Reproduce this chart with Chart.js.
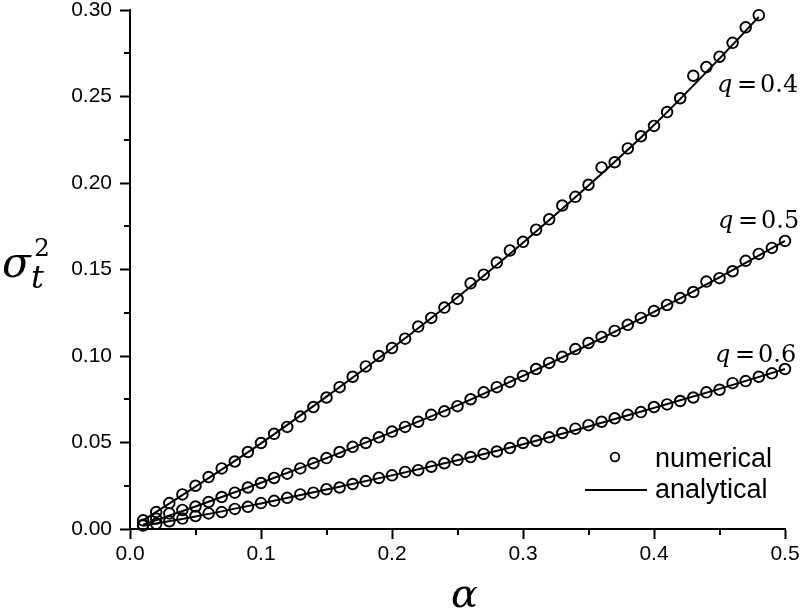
<!DOCTYPE html>
<html>
<head>
<meta charset="utf-8">
<script src="https://cdn.jsdelivr.net/npm/chart.js@4.4.1/dist/chart.umd.min.js"></script>
<style>
  html, body { margin: 0; padding: 0; background: #fff; }
  #wrap { width: 800px; height: 609px; }
</style>
</head>
<body>
<div id="wrap"><canvas id="c" width="800" height="609"></canvas></div>
<script>
// ---- data ----
const alpha = [0.01,0.02,0.03,0.04,0.05,0.06,0.07,0.08,0.09,0.10,
               0.11,0.12,0.13,0.14,0.15,0.16,0.17,0.18,0.19,0.20,
               0.21,0.22,0.23,0.24,0.25,0.26,0.27,0.28,0.29,0.30,
               0.31,0.32,0.33,0.34,0.35,0.36,0.37,0.38,0.39,0.40,
               0.41,0.42,0.43,0.44,0.45,0.46,0.47,0.48,0.49,0.50];

// numerical (circles)
const q04Num = [0.005,0.0098,0.015,0.020,0.025,0.030,0.035,0.039,0.0445,0.0497,
                0.055,0.059,0.065,0.0705,0.076,0.082,0.088,0.094,0.100,0.1046,
                0.110,0.117,0.122,0.128,0.133,0.142,0.147,0.154,0.161,0.166,
                0.173,0.179,0.187,0.192,0.199,0.209,0.212,0.220,0.227,0.233,
                0.241,0.249,0.262,0.267,0.273,0.281,0.290,0.297];
const q05Num = [0.0025,0.006,0.009,0.011,0.013,0.0156,0.0185,0.021,0.024,0.0266,
                0.0295,0.032,0.035,0.038,0.041,0.0445,0.0475,0.0497,0.053,0.0563,
                0.059,0.062,0.066,0.068,0.071,0.075,0.079,0.082,0.085,0.0885,
                0.0925,0.096,0.0995,0.104,0.1075,0.111,0.1145,0.118,0.122,0.126,
                0.1295,0.1335,0.137,0.143,0.145,0.149,0.155,0.159,0.1625,0.1665];
const q06Num = [0.002,0.003,0.0045,0.006,0.0075,0.009,0.0098,0.0116,0.0128,0.015,
                0.0163,0.018,0.020,0.021,0.023,0.024,0.026,0.0277,0.0295,0.031,
                0.033,0.034,0.036,0.038,0.040,0.0416,0.0434,0.0448,0.0468,0.0497,
                0.051,0.053,0.0555,0.058,0.060,0.062,0.064,0.066,0.0676,0.0705,
                0.072,0.074,0.076,0.079,0.0805,0.0843,0.0855,0.088,0.090,0.0925];

// analytical (lines)
const alphaLine04 = [0.01,0.05,0.10,0.15,0.20,0.25,0.30,0.35,0.40,0.45,0.48];
const q04Line     = [0.005,0.0245,0.0495,0.0765,0.1045,0.134,0.1655,0.1985,0.2335,0.272,0.296];
const alphaLine   = [0.01,0.05,0.10,0.15,0.20,0.25,0.30,0.35,0.40,0.45,0.50];
const q05Line     = [0.0025,0.013,0.0267,0.041,0.056,0.0715,0.0885,0.1065,0.1255,0.1455,0.1665];
const q06Line     = [0.0018,0.0072,0.0148,0.0228,0.031,0.0397,0.049,0.0592,0.0700,0.081,0.0925];

const curveLabels  = ['0.4', '0.5', '0.6'];
const legendLabels = ['numerical', 'analytical'];
const xMajorTicks = ['0.0','0.1','0.2','0.3','0.4','0.5'];
const yMajorTicks = ['0.00','0.05','0.10','0.15','0.20','0.25','0.30'];

// ---- build ----
const pts = (xs, ys) => ys.map((y, i) => ({x: xs[i], y: y}));

const numStyle = {
  showLine: false, clip: false, pointStyle: 'circle', pointRadius: 5.3, pointBorderWidth: 1.9,
  borderColor: '#000', pointBorderColor: '#000', backgroundColor: 'rgba(0,0,0,0)',
  pointBackgroundColor: 'rgba(0,0,0,0)', pointHoverRadius: 5.3
};
const lineStyle = {
  showLine: true, clip: false, pointRadius: 0, pointHoverRadius: 0, borderWidth: 2, borderColor: '#000',
  backgroundColor: '#000', fill: false, cubicInterpolationMode: 'monotone'
};

const datasets = [
  Object.assign({label: legendLabels[1], data: pts(alphaLine04, q04Line)}, lineStyle),
  Object.assign({label: legendLabels[1], data: pts(alphaLine, q05Line)}, lineStyle),
  Object.assign({label: legendLabels[1], data: pts(alphaLine, q06Line)}, lineStyle),
  Object.assign({label: legendLabels[0], data: pts(alpha, q04Num)}, numStyle),
  Object.assign({label: legendLabels[0], data: pts(alpha, q05Num)}, numStyle),
  Object.assign({label: legendLabels[0], data: pts(alpha, q06Num)}, numStyle)
];

const isMult = (v, step) => Math.abs(v / step - Math.round(v / step)) < 1e-6;
const tickFont = {family: '"Liberation Sans", Arial, sans-serif', size: 21};

const decor = {
  id: 'decor',
  afterDraw(chart) {
    const ctx = chart.ctx;
    const xs = chart.scales.x, ys = chart.scales.y;
    const area = chart.chartArea;
    ctx.save();
    ctx.strokeStyle = '#000';
    ctx.fillStyle = '#000';
    ctx.lineWidth = 2;
    // minor ticks
    xs.ticks.forEach(t => {
      if (!isMult(t.value, 0.1)) {
        const p = Math.round(xs.getPixelForValue(t.value));
        ctx.beginPath(); ctx.moveTo(p, area.bottom); ctx.lineTo(p, area.bottom + 6); ctx.stroke();
      }
    });
    ys.ticks.forEach(t => {
      if (!isMult(t.value, 0.05)) {
        const p = Math.round(ys.getPixelForValue(t.value));
        ctx.beginPath(); ctx.moveTo(area.left, p); ctx.lineTo(area.left - 6, p); ctx.stroke();
      }
    });

    // curve annotations  q = value
    const ann = [[717, 92], [718, 228], [715, 362]];
    curveLabels.forEach((lab, i) => {
      const [x0, yb] = ann[i];
      ctx.textAlign = 'left';
      ctx.textBaseline = 'alphabetic';
      ctx.font = 'italic 24px "DejaVu Serif", "Liberation Serif", serif';
      ctx.fillText('q', x0, yb);
      ctx.font = '24px "DejaVu Serif", "Liberation Serif", serif';
      ctx.fillText('=', x0 + 20, yb);
      ctx.fillText(lab, x0 + 43, yb);
    });

    // legend
    ctx.lineWidth = 1.8;
    ctx.beginPath(); ctx.arc(615, 457, 4.3, 0, Math.PI * 2); ctx.stroke();
    ctx.lineWidth = 2;
    ctx.beginPath(); ctx.moveTo(585, 490); ctx.lineTo(647, 490); ctx.stroke();
    ctx.font = '27px "Liberation Sans", Arial, sans-serif';
    ctx.textBaseline = 'alphabetic';
    ctx.fillText(legendLabels[0], 655, 467);
    ctx.fillText(legendLabels[1], 655, 498);

    // axis titles
    ctx.font = 'italic 40px "DejaVu Serif", "Liberation Serif", serif';
    ctx.fillText('\u03B1', 451, 607);
    ctx.font = 'italic 42px "DejaVu Serif", "Liberation Serif", serif';
    ctx.fillText('\u03C3', 2, 277);
    ctx.font = 'italic 32px "DejaVu Serif", "Liberation Serif", serif';
    ctx.fillText('t', 31, 288);
    ctx.font = '25px "DejaVu Serif", "Liberation Serif", serif';
    ctx.fillText('2', 34, 256);
    ctx.restore();
  }
};

new Chart(document.getElementById('c'), {
  type: 'scatter',
  data: {datasets},
  options: {
    responsive: false,
    animation: false,
    events: [],
    layout: {padding: {top: 10, right: 15, left: 0, bottom: 0}},
    plugins: {legend: {display: false}, tooltip: {enabled: false}},
    scales: {
      x: {
        type: 'linear', min: 0, max: 0.5,
        afterFit: s => { s.height = 80; s.paddingLeft = 0; s.paddingRight = 0; s.paddingTop = 0; s.paddingBottom = 0; },
        border: {display: true, color: '#000', width: 2},
        grid: {display: true, drawOnChartArea: false, drawTicks: true, tickLength: 10, tickWidth: 2,
               tickColor: c => (c.tick && isMult(c.tick.value, 0.1)) ? '#000' : 'rgba(0,0,0,0)'},
        ticks: {stepSize: 0.05, autoSkip: false, maxRotation: 0, padding: 3, color: '#000', font: tickFont,
                callback: v => isMult(v, 0.1) ? xMajorTicks[Math.round(v / 0.1)] : ''}
      },
      y: {
        type: 'linear', min: 0, max: 0.3,
        afterFit: s => { s.width = 130; s.paddingTop = 0; s.paddingBottom = 0; s.paddingLeft = 0; s.paddingRight = 0; },
        border: {display: true, color: '#000', width: 2},
        grid: {display: true, drawOnChartArea: false, drawTicks: true, tickLength: 10, tickWidth: 2,
               tickColor: c => (c.tick && isMult(c.tick.value, 0.05)) ? '#000' : 'rgba(0,0,0,0)'},
        ticks: {stepSize: 0.025, autoSkip: false, padding: 8, color: '#000', font: tickFont,
                callback: v => isMult(v, 0.05) ? yMajorTicks[Math.round(v / 0.05)] : ''}
      }
    }
  },
  plugins: [decor]
});
</script>
</body>
</html>
